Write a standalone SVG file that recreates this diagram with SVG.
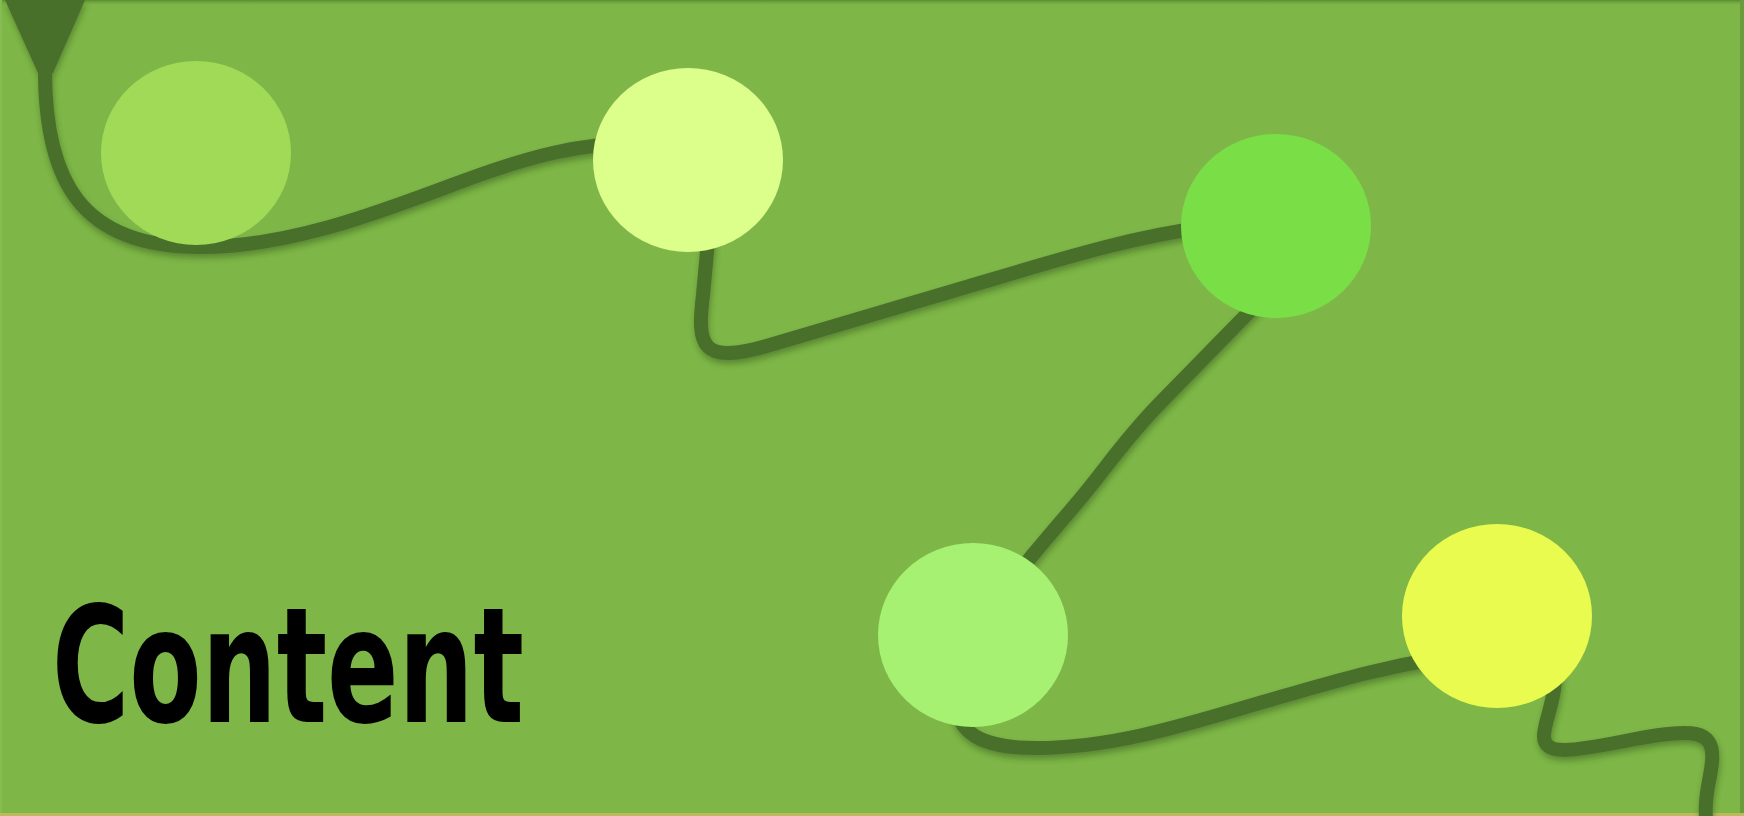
<svg xmlns="http://www.w3.org/2000/svg" width="1744" height="816" viewBox="0 0 1744 816">
  <defs>
    <style>
      .link { fill: none; stroke: #4a6f2b; stroke-width: 14; stroke-linecap: butt; stroke-linejoin: round; }
      .node { stroke: none; }
      .title { font-family: "DejaVu Sans Condensed", "DejaVu Sans", sans-serif; font-weight: bold; font-size: 160px; fill: #000000; }
    </style>
    <filter id="shadow" x="-10%" y="-10%" width="120%" height="130%">
      <feDropShadow dx="1" dy="4" stdDeviation="3" flood-color="#2e4a15" flood-opacity="0.45"/>
    </filter>
    <linearGradient id="topEdge" x1="0" y1="0" x2="0" y2="1">
      <stop offset="0" stop-color="#5a8a30"/>
      <stop offset="1" stop-color="#7eb748" stop-opacity="0"/>
    </linearGradient>
  </defs>

  <!-- background -->
  <rect x="0" y="0" width="1744" height="816" fill="#7eb748"/>
  <rect x="0" y="0" width="1744" height="6" fill="url(#topEdge)"/>
  <rect x="0" y="0" width="2" height="816" fill="#86bd52"/>
  <rect x="1740" y="0" width="4" height="816" fill="#6a9c3c"/>
  <rect x="0" y="813" width="1744" height="3" fill="#bdb95e"/>

  <!-- connectors -->
  <g id="connectors" filter="url(#shadow)">
    <polygon points="5,0 85,0 53,73 38,73" fill="#4a6f2b"/>
    <path class="link" d="M45,70 C45,180 80,247 200,247 C290,247 380,212 460,182 C530,156 580,143 640,143 C720,143 712,200 707,252 L703,295 C697,345 700,366 770,345 L1000,277 C1080,253 1140,236 1200,228"/>
    <path class="link" d="M1290,270 L1163,400 C1125,438 1105,470 1075,505 C1050,535 1030,555 990,610"/>
    <path class="link" d="M962,650 C942,722 962,748 1036,748 C1120,748 1200,720 1280,697 C1340,680 1380,668 1440,658"/>
    <path class="link" d="M1552,650 C1562,690 1545,715 1544,735 C1543,756 1570,752 1630,740 C1695,727 1715,730 1712,762 C1710,782 1704,795 1706,818"/>
  </g>

  <!-- nodes -->
  <g id="node1"><ellipse class="node" cx="196" cy="153" rx="95" ry="92" fill="#a1da56"/></g>
  <g id="node2"><ellipse class="node" cx="688" cy="160" rx="95" ry="92" fill="#dcfe8b"/></g>
  <g id="node3"><ellipse class="node" cx="1276" cy="226" rx="95" ry="92" fill="#7adf46"/></g>
  <g id="node4"><ellipse class="node" cx="973" cy="635" rx="95" ry="92" fill="#a6f172"/></g>
  <g id="node5"><ellipse class="node" cx="1497" cy="616" rx="95" ry="92" fill="#eafb4f"/></g>

  <!-- title -->
  <text class="title" x="52" y="722" textLength="472" lengthAdjust="spacingAndGlyphs">Content</text>
</svg>
